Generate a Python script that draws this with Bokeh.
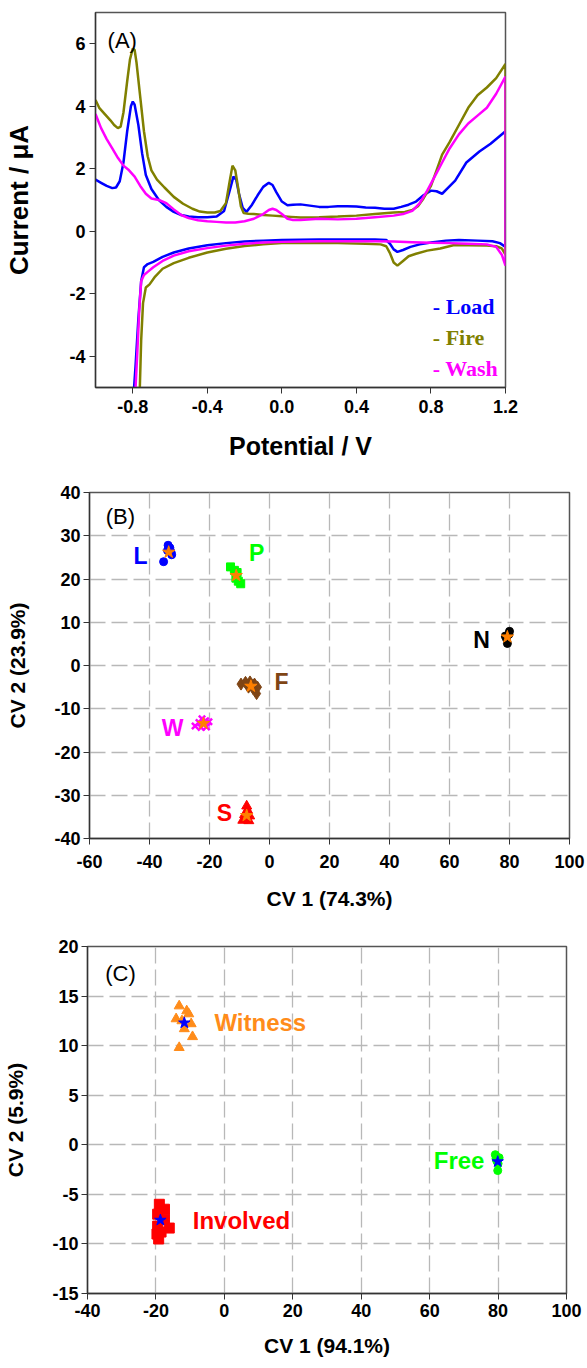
from bokeh.plotting import figure
from bokeh.layouts import column
from bokeh.models import Label, FixedTicker, ColumnDataSource, Range1d
from bokeh.core.properties import value
from bokeh.embed import file_html
from bokeh.resources import INLINE

FONT = "Liberation Sans"
SERIF = "Liberation Serif"

# ---------------- Panel A data (cyclic voltammograms) ----------------
load_fwd_v = [-1.00, -0.97, -0.94, -0.91, -0.89, -0.87, -0.85, -0.83, -0.81, -0.80, -0.79, -0.77, -0.75, -0.73,
              -0.70, -0.66, -0.62, -0.58, -0.54, -0.50, -0.45, -0.40, -0.35, -0.31, -0.28, -0.26, -0.245, -0.23,
              -0.21, -0.19, -0.16, -0.13, -0.10, -0.07, -0.05, -0.03, 0.00, 0.03, 0.06, 0.10, 0.15, 0.20, 0.25,
              0.30, 0.35, 0.40, 0.45, 0.50, 0.55, 0.60, 0.64, 0.68, 0.72, 0.76, 0.80, 0.83, 0.86, 0.89, 0.93,
              0.99, 1.06, 1.12, 1.16, 1.20]
load_fwd_i = [1.65, 1.55, 1.45, 1.38, 1.40, 1.60, 2.20, 3.20, 4.00, 4.15, 4.05, 3.40, 2.50, 1.80,
              1.35, 1.00, 0.78, 0.62, 0.52, 0.47, 0.45, 0.45, 0.47, 0.65, 1.30, 1.75, 1.65, 1.20,
              0.75, 0.62, 0.85, 1.15, 1.42, 1.55, 1.48, 1.25, 0.95, 0.83, 0.85, 0.86, 0.82, 0.78, 0.78,
              0.80, 0.80, 0.79, 0.76, 0.75, 0.72, 0.72, 0.78, 0.85, 0.95, 1.15, 1.30, 1.28, 1.20, 1.38, 1.62,
              2.20, 2.55, 2.80, 3.00, 3.20]
load_rev_v = [1.20, 1.17, 1.13, 1.05, 0.95, 0.88, 0.80, 0.74, 0.69, 0.65, 0.62, 0.60, 0.58, 0.56, 0.50,
              0.40, 0.30, 0.20, 0.10, 0.00, -0.10, -0.20, -0.30, -0.40, -0.50, -0.58, -0.64, -0.69, -0.72,
              -0.74, -0.755, -0.77, -0.785, -0.80]
load_rev_i = [-0.50, -0.38, -0.32, -0.30, -0.28, -0.30, -0.36, -0.42, -0.50, -0.60, -0.66, -0.58, -0.40, -0.28,
              -0.26, -0.26, -0.26, -0.26, -0.27, -0.28, -0.30, -0.33, -0.38, -0.45, -0.55, -0.68, -0.82, -0.98,
              -1.05, -1.15, -1.60, -2.80, -4.30, -5.60]

fire_fwd_v = [-1.00, -0.98, -0.95, -0.92, -0.90, -0.88, -0.865, -0.85, -0.83, -0.815, -0.80, -0.79, -0.78,
              -0.76, -0.74, -0.72, -0.70, -0.67, -0.63, -0.58, -0.53, -0.48, -0.44, -0.40, -0.36, -0.33, -0.30,
              -0.28, -0.265, -0.25, -0.235, -0.22, -0.205, -0.18, -0.15, -0.10, -0.05, 0.00, 0.05, 0.10, 0.20,
              0.30, 0.40, 0.50, 0.60, 0.66, 0.70, 0.73, 0.76, 0.80, 0.83, 0.86, 0.90, 0.95, 1.00, 1.05, 1.10,
              1.15, 1.20]
fire_fwd_i = [4.20, 3.95, 3.75, 3.55, 3.40, 3.30, 3.35, 3.80, 4.80, 5.50, 5.85, 5.80, 5.40,
              4.30, 3.20, 2.40, 1.95, 1.65, 1.40, 1.10, 0.88, 0.72, 0.63, 0.60, 0.60, 0.65, 0.90,
              1.60, 2.10, 1.95, 1.40, 0.80, 0.58, 0.56, 0.55, 0.52, 0.50, 0.48, 0.46, 0.44, 0.45,
              0.47, 0.50, 0.55, 0.60, 0.62, 0.68, 0.80, 1.05, 1.45, 1.95, 2.45, 2.85, 3.40, 3.95, 4.35, 4.60,
              4.90, 5.35]
fire_rev_v = [1.20, 1.18, 1.15, 1.10, 1.00, 0.92, 0.85, 0.78, 0.72, 0.68, 0.65, 0.62, 0.60, 0.58, 0.56, 0.53,
              0.45, 0.30, 0.15, 0.00, -0.10, -0.20, -0.30, -0.40, -0.50, -0.58, -0.64, -0.68, -0.71, -0.73,
              -0.745, -0.755, -0.765]
fire_rev_i = [-0.75, -0.55, -0.48, -0.46, -0.45, -0.45, -0.55, -0.62, -0.72, -0.80, -0.95, -1.10, -1.00, -0.70,
              -0.48, -0.42, -0.40, -0.38, -0.37, -0.38, -0.42, -0.47, -0.56, -0.68, -0.85, -1.02, -1.20, -1.45,
              -1.70, -1.80, -2.30, -3.50, -5.60]

wash_fwd_v = [-1.00, -0.97, -0.94, -0.91, -0.88, -0.85, -0.82, -0.79, -0.76, -0.73, -0.70, -0.66, -0.62, -0.58,
              -0.54, -0.50, -0.45, -0.40, -0.35, -0.30, -0.25, -0.20, -0.15, -0.10, -0.07, -0.05, -0.03, 0.00,
              0.03, 0.06, 0.10, 0.20, 0.30, 0.40, 0.50, 0.60, 0.65, 0.70, 0.74, 0.78, 0.82, 0.86, 0.90, 0.95,
              1.00, 1.05, 1.10, 1.15, 1.20]
wash_fwd_i = [3.75, 3.30, 2.95, 2.65, 2.35, 2.10, 1.95, 1.75, 1.45, 1.20, 1.05, 1.00, 0.90, 0.70,
              0.52, 0.42, 0.35, 0.32, 0.30, 0.28, 0.28, 0.32, 0.40, 0.55, 0.68, 0.72, 0.68, 0.55,
              0.40, 0.36, 0.36, 0.40, 0.38, 0.40, 0.45, 0.50, 0.55, 0.65, 0.90, 1.30, 1.75, 2.20, 2.65, 3.10,
              3.45, 3.70, 3.95, 4.40, 4.95]
wash_rev_v = [1.20, 1.18, 1.15, 1.10, 1.00, 0.90, 0.80, 0.70, 0.60, 0.50, 0.40, 0.30, 0.20, 0.10, 0.00,
              -0.10, -0.20, -0.30, -0.40, -0.50, -0.58, -0.64, -0.69, -0.72, -0.74, -0.755, -0.765, -0.775, -0.79]
wash_rev_i = [-1.10, -0.75, -0.50, -0.42, -0.40, -0.38, -0.37, -0.35, -0.33, -0.32, -0.32, -0.32, -0.32, -0.33,
              -0.34, -0.36, -0.40, -0.46, -0.54, -0.64, -0.78, -0.95, -1.15, -1.30, -1.40, -1.60, -2.50, -3.80,
              -5.60]

cv_names = ["Load", "Fire", "Wash"]
cv_colors = ["#0000FF", "#808000", "#FF00FF"]

a_xticks = [-0.8, -0.4, 0.0, 0.4, 0.8, 1.2]
a_xlabels = ["-0.8", "-0.4", "0.0", "0.4", "0.8", "1.2"]
a_yticks = [-4, -2, 0, 2, 4, 6]
a_ylabels = ["-4", "-2", "0", "2", "4", "6"]

# ---------------- Panel B data ----------------
L_x = [-33.8, -33.2, -32.8, -34.0, -32.6, -35.3]
L_y = [27.8, 27.2, 26.2, 26.6, 25.6, 24.0]
P_x = [-13.0, -11.7, -10.8, -11.2, -10.4, -9.6]
P_y = [22.8, 22.0, 21.5, 20.2, 19.5, 18.9]
N_x = [80.0, 79.8, 78.6, 79.0, 79.3]
N_y = [7.9, 7.2, 6.8, 6.2, 5.1]
F_x = [-9.5, -8.0, -6.5, -5.0, -4.0, -5.5, -7.0, -4.3]
F_y = [-4.3, -3.9, -3.8, -4.3, -5.0, -5.3, -5.0, -6.5]
W_x = [-24.8, -23.5, -22.5, -21.3, -20.2, -21.0, -22.8]
W_y = [-14.0, -13.2, -12.3, -12.8, -13.0, -14.2, -14.3]
S_x = [-7.6, -7.3, -8.3, -6.6, -8.9, -6.9, -7.8]
S_y = [-32.5, -33.5, -34.5, -34.8, -35.8, -35.9, -35.5]
b_centroid_x = [-33.6, -11.1, 79.3, -6.2, -22.0, -7.6]
b_centroid_y = [26.2, 20.8, 6.6, -4.8, -13.4, -34.7]
b_names = ["L", "P", "N", "F", "W", "S"]
b_label_x = [-43.0, -4.3, 70.7, 4.0, -32.3, -15.0]
b_label_y = [25.4, 26.1, 6.0, -3.9, -14.5, -34.2]
b_colors = ["#0000FF", "#00FF00", "#000000", "#7F4515", "#FF00FF", "#FF0000"]
b_xticks = [-60, -40, -20, 0, 20, 40, 60, 80, 100]
b_xlabels = ["-60", "-40", "-20", "0", "20", "40", "60", "80", "100"]
b_yticks = [-40, -30, -20, -10, 0, 10, 20, 30, 40]
b_ylabels = ["-40", "-30", "-20", "-10", "0", "10", "20", "30", "40"]

# ---------------- Panel C data ----------------
witness_x = [-13.2, -11.0, -10.4, -14.1, -12.4, -9.7, -11.7, -9.3, -13.2]
witness_y = [14.0, 13.5, 13.2, 12.7, 12.5, 12.2, 11.7, 10.9, 9.8]
involved_x = [-19.0, -17.5, -19.5, -17.5, -19.5, -16.1, -18.5, -19.2, -19.7]
involved_y = [-6.0, -6.5, -7.0, -7.5, -8.2, -8.4, -8.8, -9.5, -9.0]
free_x = [79.2, 80.3, 79.6, 80.0, 79.9, 79.4]
free_y = [-1.0, -1.3, -1.6, -1.9, -2.6, -1.4]
c_centroid_x = [-11.7, -18.7, 79.9]
c_centroid_y = [12.3, -7.6, -1.7]
c_names = ["Witness", "Involved", "Free"]
c_label_x = [10.5, 5.0, 68.6]
c_label_y = [12.3, -7.6, -1.6]
c_colors = ["#FF8C1A", "#FF0000", "#00FF00"]
c_xticks = [-40, -20, 0, 20, 40, 60, 80, 100]
c_xlabels = ["-40", "-20", "0", "20", "40", "60", "80", "100"]
c_yticks = [-15, -10, -5, 0, 5, 10, 15, 20]
c_ylabels = ["-15", "-10", "-5", "0", "5", "10", "15", "20"]

W_FIG = 587


def style_axes(p, tick_size="18px", label_size="22px"):
    for ax in (p.xaxis, p.yaxis):
        ax.major_label_text_font = FONT
        ax.major_label_text_font_style = "bold"
        ax.major_label_text_font_size = tick_size
        ax.major_label_text_color = "#000000"
        ax.axis_label_text_font = FONT
        ax.axis_label_text_font_style = "bold"
        ax.axis_label_text_font_size = label_size
        ax.axis_label_text_color = "#000000"
        ax.minor_tick_line_color = None
        ax.major_tick_in = 0
        ax.major_tick_out = 6
        ax.major_tick_line_color = "#333333"
        ax.axis_line_color = "#333333"
        ax.axis_line_width = 1.3
    p.outline_line_color = "#555555"
    p.outline_line_width = 1.5


# ================= Panel A =================
pA = figure(width=W_FIG, height=465, output_backend="svg", toolbar_location=None,
            x_range=Range1d(-1.0, 1.2), y_range=Range1d(-5, 7), frame_align=False,
            min_border_left=95, min_border_right=82, min_border_top=12, min_border_bottom=78)
pA.grid.visible = False
style_axes(pA, "18px", "26px")
pA.xaxis.axis_label = "Potential / V"
pA.yaxis.axis_label = "Current / μA"
pA.xaxis.axis_label_text_font_size = "25px"
pA.xaxis.ticker = FixedTicker(ticks=a_xticks)
pA.yaxis.ticker = FixedTicker(ticks=a_yticks)
pA.xaxis.major_label_overrides = dict(zip(a_xticks, a_xlabels))
pA.yaxis.major_label_overrides = dict(zip(a_yticks, a_ylabels))
pA.xaxis.major_label_standoff = 6
pA.xaxis.axis_label_standoff = 16
pA.yaxis.major_label_standoff = 4
pA.yaxis.axis_label_standoff = 32

curves = [(load_fwd_v + load_rev_v, load_fwd_i + load_rev_i),
          (fire_fwd_v + fire_rev_v, fire_fwd_i + fire_rev_i),
          (wash_fwd_v + wash_rev_v, wash_fwd_i + wash_rev_i)]
for (vx, iy), col in zip(curves, cv_colors):
    pA.line(vx, iy, line_color=col, line_width=2.5)

pA.add_layout(Label(x=-0.935, y=6.1, text="(A)", text_font=FONT, text_font_size="22px",
                    text_baseline="middle", text_align="left", text_color="#000000"))
leg_y = [-2.4, -3.4, -4.4]
for name, col, yy in zip(cv_names, cv_colors, leg_y):
    pA.add_layout(Label(x=0.81, y=yy, text="- " + name, text_font=SERIF, text_font_style="bold",
                        text_font_size="22px", text_color=col, text_baseline="middle", text_align="left"))

# ================= Panel B =================
pB = figure(width=W_FIG, height=450, output_backend="svg", toolbar_location=None,
            x_range=Range1d(-60, 100), y_range=Range1d(-40, 40), frame_align=False,
            min_border_left=89, min_border_right=18, min_border_top=27, min_border_bottom=77)
style_axes(pB, "18px", "21px")
pB.xaxis.axis_label = "CV 1 (74.3%)"
pB.yaxis.axis_label = "CV 2 (23.9%)"
pB.xaxis.ticker = FixedTicker(ticks=b_xticks)
pB.yaxis.ticker = FixedTicker(ticks=b_yticks)
pB.xaxis.major_label_overrides = dict(zip(b_xticks, b_xlabels))
pB.yaxis.major_label_overrides = dict(zip(b_yticks, b_ylabels))
pB.xaxis.major_label_standoff = 10
pB.xaxis.axis_label_standoff = 16
pB.yaxis.major_label_standoff = 3
pB.yaxis.axis_label_standoff = 22
for g in (pB.xgrid, pB.ygrid):
    g.grid_line_color = "#b8b8b8"
    g.grid_line_dash = "16 6"
    g.grid_line_width = 1.3

pB.scatter(L_x, L_y, marker="circle", size=8, color=b_colors[0])
pB.scatter(P_x, P_y, marker="square", size=8, color=b_colors[1])
pB.scatter(N_x, N_y, marker="circle", size=8, color=b_colors[2])
pB.scatter(F_x, F_y, marker="diamond", size=12, color=b_colors[3])
pB.scatter(W_x, W_y, marker="x", size=9, line_color=b_colors[4], line_width=2.5)
pB.scatter(S_x, S_y, marker="triangle", size=10, color=b_colors[5])
pB.scatter(b_centroid_x, b_centroid_y, marker="star", size=13, color="#FF8000")

srcB = ColumnDataSource(dict(x=b_label_x, y=b_label_y, t=b_names, c=b_colors))
pB.text(x="x", y="y", text="t", text_color="c", source=srcB, text_font=value(FONT),
        text_font_style="bold", text_font_size="23px", text_align="center", text_baseline="middle")
pB.add_layout(Label(x=-54.6, y=34.5, text="(B)", text_font=FONT, text_font_size="22px",
                    text_baseline="middle", text_align="left", text_color="#000000"))

# ================= Panel C =================
pC = figure(width=W_FIG, height=453, output_backend="svg", toolbar_location=None,
            x_range=Range1d(-40, 100), y_range=Range1d(-15, 20), frame_align=False,
            min_border_left=87, min_border_right=21, min_border_top=31, min_border_bottom=75)
style_axes(pC, "18px", "21px")
pC.xaxis.axis_label = "CV 1 (94.1%)"
pC.yaxis.axis_label = "CV 2 (5.9%)"
pC.xaxis.ticker = FixedTicker(ticks=c_xticks)
pC.yaxis.ticker = FixedTicker(ticks=c_yticks)
pC.xaxis.major_label_overrides = dict(zip(c_xticks, c_xlabels))
pC.yaxis.major_label_overrides = dict(zip(c_yticks, c_ylabels))
pC.xaxis.major_label_standoff = 4
pC.xaxis.axis_label_standoff = 14
pC.yaxis.major_label_standoff = 3
pC.yaxis.axis_label_standoff = 22
for g in (pC.xgrid, pC.ygrid):
    g.grid_line_color = "#b8b8b8"
    g.grid_line_dash = "16 6"
    g.grid_line_width = 1.3

pC.scatter(witness_x, witness_y, marker="triangle", size=10, color=c_colors[0])
pC.scatter(involved_x, involved_y, marker="square", size=10, color=c_colors[1])
pC.scatter(free_x, free_y, marker="circle", size=8, color=c_colors[2])
pC.scatter(c_centroid_x, c_centroid_y, marker="star", size=12, color="#0000FF")

srcC = ColumnDataSource(dict(x=c_label_x, y=c_label_y, t=c_names, c=c_colors))
pC.text(x="x", y="y", text="t", text_color="c", source=srcC, text_font=value(FONT),
        text_font_style="bold", text_font_size="24px", text_align="center", text_baseline="middle")
pC.add_layout(Label(x=-34.8, y=17.3, text="(C)", text_font=FONT, text_font_size="22px",
                    text_baseline="middle", text_align="left", text_color="#000000"))

layout = column(pA, pB, pC)
open("out.html", "w").write(file_html(layout, INLINE))
